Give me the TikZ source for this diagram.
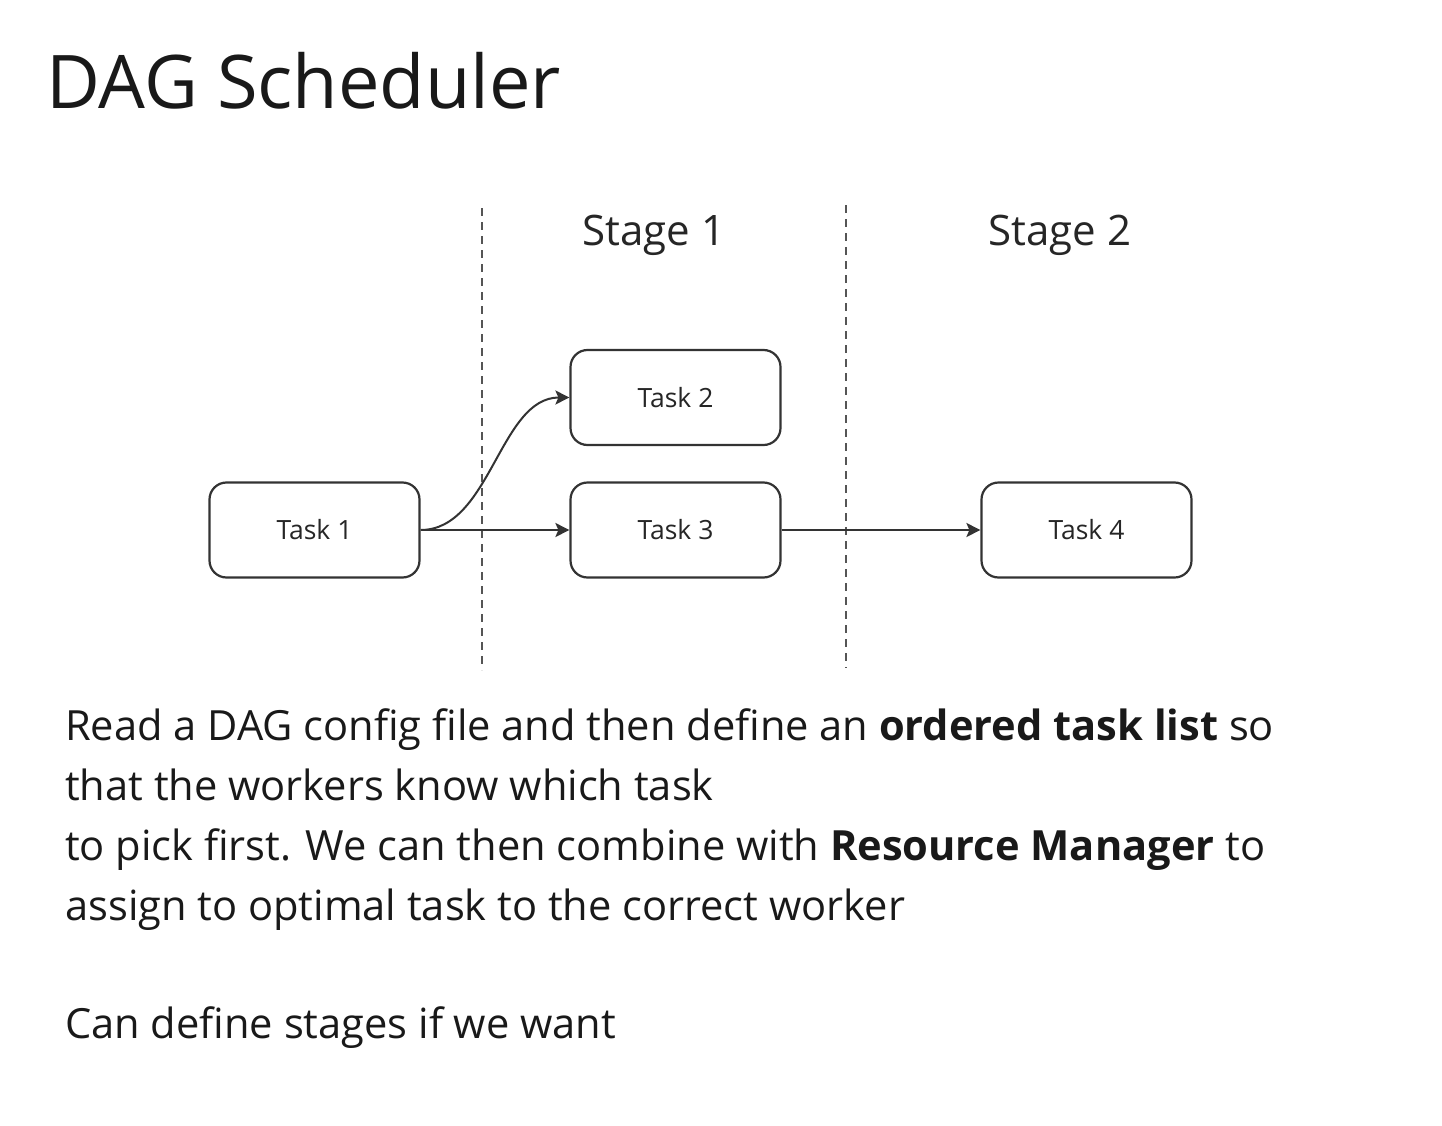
\documentclass[tikz,border=0pt]{standalone}
\usepackage{fontspec}
\setmainfont{Open Sans}
\usetikzlibrary{arrows.meta}
\definecolor{ink}{HTML}{333333}
\definecolor{dashc}{HTML}{555555}
\begin{document}
\begin{tikzpicture}[x=1pt,y=-1pt,
  task/.style={draw=ink,line width=2.2pt,rounded corners=17pt,minimum width=210pt,minimum height=95pt,inner sep=0pt,font=\fontsize{26.5}{30}\selectfont,text=black!85},
  conn/.style={draw=ink,line width=2pt,-{Stealth[length=14pt,width=14pt,inset=3pt]}},
  divider/.style={draw=dashc,line width=2pt,dash pattern=on 8pt off 6pt},
  stagelbl/.style={font=\fontsize{42}{50}\selectfont,text=black!85},
  body/.style={anchor=base west,inner sep=0pt,font=\fontsize{41.6}{60}\selectfont,text=black!90}]
\useasboundingbox[fill=white] (0,0) rectangle (1442,1126);
\node[anchor=base west,inner sep=0pt,font=\fontsize{74}{90}\selectfont,text=black!90] (title) at (46,109) {DAG Scheduler};
\coordinate (d1t) at (482,208);
\coordinate (d1b) at (482,670);
\coordinate (d2t) at (846,205);
\coordinate (d2b) at (846,668);
\draw[divider] (d1t) -- (d1b);
\draw[divider] (d2t) -- (d2b);
\node[stagelbl] (s1) at (654,235) {Stage 1};
\node[stagelbl] (s2) at (1060,235) {Stage 2};
\node[task] (t1) at (314.5,530) {Task 1};
\node[task] (t2) at (675.5,397.5) {Task 2};
\node[task] (t3) at (675.5,530) {Task 3};
\node[task] (t4) at (1086.5,530) {Task 4};
\draw[conn] (t1.east) -- (t3.west);
\draw[conn] (t1.east) .. controls ++(70,0) and ++(-70,0) .. (t2.west);
\draw[conn] (t3.east) -- (t4.west);
\node[body] (l1) at (65,740) {Read a DAG config file and then define an \textbf{ordered task list} so};
\node[body] (l2) at (65,800) {that the workers know which task};
\node[body] (l3) at (65,860) {to pick first. We can then combine with \textbf{Resource Manager} to};
\node[body] (l4) at (65,920) {assign to optimal task to the correct worker};
\node[body] (l5) at (65,1038) {Can define stages if we want};
\end{tikzpicture}
\end{document}
